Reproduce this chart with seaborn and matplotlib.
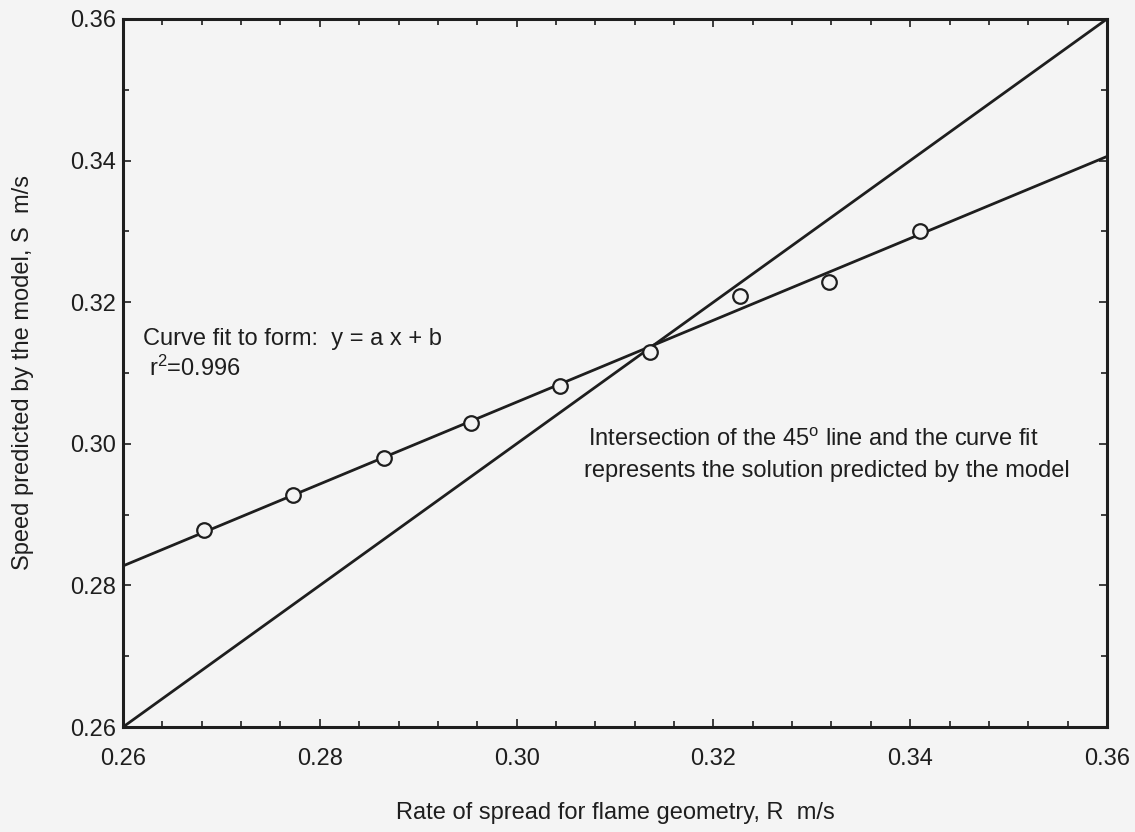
import numpy as np
import pandas as pd
import matplotlib
matplotlib.use("Agg")
import matplotlib.pyplot as plt
from matplotlib.ticker import MultipleLocator, FormatStrFormatter
import seaborn as sns

# Data
rate_R = [0.2682, 0.2773, 0.2865, 0.2954, 0.3044, 0.3136, 0.3227, 0.3318, 0.3410]
speed_S = [0.2878, 0.2928, 0.2980, 0.3030, 0.3081, 0.3130, 0.3209, 0.3229, 0.3301]
x_ticks = [0.26, 0.28, 0.30, 0.32, 0.34, 0.36]
y_ticks = [0.26, 0.28, 0.30, 0.32, 0.34, 0.36]

df = pd.DataFrame({"R": rate_R, "S": speed_S})

sns.set_theme(style="ticks")
ink = "#1e1e1e"
paper = "#f4f4f4"
plt.rcParams["font.family"] = ["Liberation Sans", "DejaVu Sans"]
plt.rcParams["mathtext.fontset"] = "custom"
plt.rcParams["mathtext.rm"] = "Liberation Sans"
plt.rcParams["mathtext.it"] = "Liberation Sans"
plt.rcParams["text.color"] = ink
plt.rcParams["axes.labelcolor"] = ink

FS = 17

fig = plt.figure(figsize=(11.35, 8.32), dpi=100, facecolor=paper)
ax = fig.add_axes([0.1084, 0.1262, 0.9753 - 0.1084, 0.9772 - 0.1262])
ax.set_facecolor(paper)

ax.set_xlim(x_ticks[0], x_ticks[-1])
ax.set_ylim(y_ticks[0], y_ticks[-1])

# 45 degree line
ax.axline((x_ticks[0], y_ticks[0]), slope=1, color=ink, lw=2.0, zorder=2)

# linear curve fit across the full axis range
sns.regplot(data=df, x="R", y="S", ax=ax, scatter=False, ci=None,
            truncate=False, color=ink, line_kws={"lw": 2.0, "zorder": 2})

# data points (open circles)
sns.scatterplot(data=df, x="R", y="S", ax=ax, marker="o", s=110,
                facecolor=paper, edgecolor=ink, linewidth=1.6, zorder=3)

ax.set_xticks(x_ticks)
ax.set_yticks(y_ticks)
ax.xaxis.set_major_formatter(FormatStrFormatter("%.2f"))
ax.yaxis.set_major_formatter(FormatStrFormatter("%.2f"))
ax.xaxis.set_minor_locator(MultipleLocator(0.004))
ax.yaxis.set_minor_locator(MultipleLocator(0.01))
ax.tick_params(axis="both", which="both", direction="in", top=True, right=True,
               colors=ink, labelsize=FS, width=1.2)
ax.tick_params(axis="both", which="major", length=6)
ax.tick_params(axis="both", which="minor", length=4)
ax.tick_params(axis="x", which="major", pad=15)
ax.tick_params(axis="y", which="major", pad=5)

for sp in ax.spines.values():
    sp.set_linewidth(2.2)
    sp.set_color(ink)

ax.set_xlabel("Rate of spread for flame geometry, R  m/s", fontsize=FS, labelpad=23)
ax.set_ylabel("Speed predicted by the model, S  m/s", fontsize=FS, labelpad=26)

ax.text(0.0205, 0.548, "Curve fit to form:  y = a x + b", transform=ax.transAxes,
        fontsize=FS, va="center", ha="left")
ax.text(0.026, 0.506, "r$^{2}$=0.996", transform=ax.transAxes,
        fontsize=FS, va="center", ha="left")
ax.text(0.473, 0.406, "Intersection of the 45$^{\\mathrm{o}}$ line and the curve fit",
        transform=ax.transAxes, fontsize=FS, va="center", ha="left")
ax.text(0.468, 0.362, "represents the solution predicted by the model",
        transform=ax.transAxes, fontsize=FS, va="center", ha="left")

fig.savefig("out.png", dpi=100, facecolor=paper)
